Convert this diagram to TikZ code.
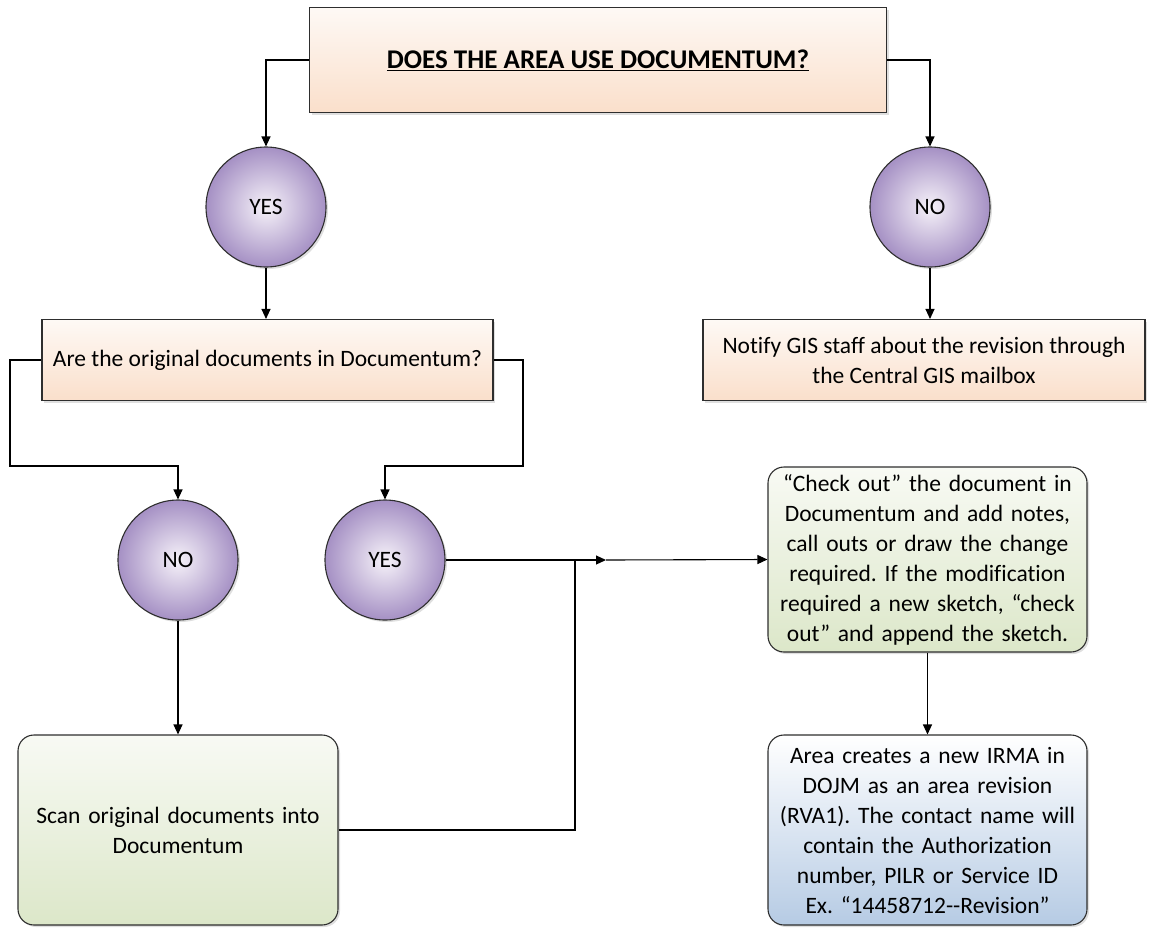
\documentclass[tikz,border=0pt]{standalone}
\usepackage{fontspec}
\setmainfont{Carlito}[Ligatures=NoCommon]
\usetikzlibrary{arrows.meta,shadows,calc}
\frenchspacing
\definecolor{peachT}{HTML}{FEF9F5}
\definecolor{peachB}{HTML}{FADFCB}
\definecolor{purpO}{HTML}{A590C4}
\definecolor{purpI}{HTML}{F6F2F9}
\definecolor{greenT}{HTML}{F8FAF4}
\definecolor{greenB}{HTML}{DCE7C9}
\definecolor{blueT}{HTML}{FFFFFF}
\definecolor{blueB}{HTML}{B6CBE4}
\definecolor{edge}{HTML}{2E2E2E}
\tikzset{
  shad/.style={drop shadow={opacity=0.25,shadow xshift=2pt,shadow yshift=-2pt}},
  peachbox/.style={draw=edge,line width=1.1pt,top color=peachT,bottom color=peachB,shad,align=center,inner sep=0pt},
  roundbox/.style={draw=edge,line width=1.1pt,rounded corners=16pt,shad,align=center,inner sep=0pt},
  greenbox/.style={roundbox,top color=greenT,bottom color=greenB},
  bluebox/.style={roundbox,top color=blueT,bottom color=blueB},
  decision/.style={circle,draw=edge,line width=1.1pt,minimum size=120pt,inner sep=0pt,inner color=purpI,outer color=purpO,shad},
  conn/.style={draw=black,line width=1.1pt},
  arr/.style={conn,-{Triangle[length=10pt,width=9pt]}},
  txt/.style={font=\fontsize{23.5}{30}\selectfont}
}
\begin{document}
\begin{tikzpicture}[x=1pt,y=-1pt]
\useasboundingbox (0,0) rectangle (1149,927);
% nodes
\node[peachbox,minimum width=577pt,minimum height=105pt,font=\fontsize{27}{32}\selectfont\bfseries] (top) at (598,60) {\underline{DOES THE AREA USE DOCUMENTUM?}};
\node[decision,txt] (yes1) at (266,207) {YES};
\node[decision,txt] (no1) at (930,207) {NO};
\node[peachbox,txt,minimum width=451pt,minimum height=81pt] (q2) at (267.5,360) {Are the original documents in Documentum?};
\node[peachbox,txt,minimum width=442pt,minimum height=81pt] (notify) at (924,360) {Notify GIS staff about the revision through\\the Central GIS mailbox};
\node[decision,txt] (no2) at (178,560) {NO};
\node[decision,txt] (yes2) at (385,560) {YES};
\node[greenbox,txt,minimum width=319pt,minimum height=185pt,text width=318pt] (green) at (927.5,559.5) {“Check out” the document in\\Documentum and add notes,\\call outs or draw the change\\required. If the modification\\required a new sketch, “check\\out” and append the sketch.};
\node[greenbox,txt,minimum width=320pt,minimum height=190pt,text width=318pt] (scan) at (178,830) {Scan original documents into\\Documentum};
\node[bluebox,txt,minimum width=319pt,minimum height=190pt,text width=318pt] (blue) at (927.5,830) {Area creates a new IRMA in\\DOJM as an area revision\\(RVA1). The contact name will\\contain the Authorization\\number, PILR or Service ID\\Ex. “14458712-{}-Revision”};
% helper coordinates
\coordinate (l1) at (10,466);
\coordinate (r1) at (523,466);
\coordinate (j) at (575,560);
\coordinate (mid) at (606,560);
% connectors
\draw[arr] (top.west) -| (yes1.north);
\draw[arr] (top.east) -| (no1.north);
\draw[arr] (yes1.south) -- (yes1.south |- q2.north);
\draw[arr] (no1.south) -- (no1.south |- notify.north);
\draw[arr] (q2.west) -| (l1) -| (no2.north);
\draw[arr] (q2.east) -| (r1) -| (yes2.north);
\draw[arr] (yes2.east) -- (mid);
\draw[arr] (mid) -- (green.west);
\draw[conn] (scan.east) -| (j);
\draw[arr] (no2.south) -- (scan.north);
\draw[arr] (green.south) -- (blue.north);
\end{tikzpicture}
\end{document}
